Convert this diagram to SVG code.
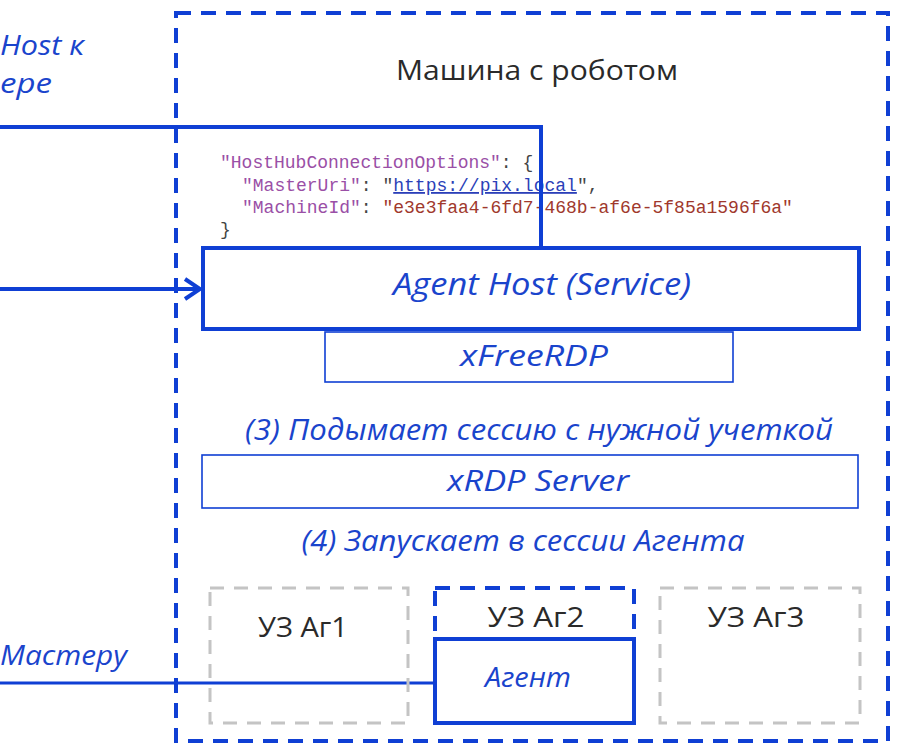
<svg xmlns="http://www.w3.org/2000/svg" width="901" height="755" viewBox="0 0 901 755">
<defs>
<style>
.blue{stroke:#0f3fd4;fill:none}
.thick{stroke-width:4}
.thin{stroke-width:1.6}
.dash{stroke-dasharray:15 10}
.grey{stroke:#c4c4c4;fill:none;stroke-width:3;stroke-dasharray:14 10}
.lbl{font-family:"Open Sans","Noto Sans","Liberation Sans",sans-serif;font-style:italic;fill:#1a44cc}
.dark{font-family:"Open Sans","Noto Sans","Liberation Sans",sans-serif;fill:#2a2a2a}
.code{font-family:"Liberation Mono","DejaVu Sans Mono",monospace;font-size:18px;fill:#444}
.key{fill:#9a4fa6}
.str{fill:#a0382c}
.url{fill:#2b3fb8;text-decoration:underline}
</style>
<marker id="chev" markerWidth="20" markerHeight="24" refX="18" refY="12" orient="auto" markerUnits="userSpaceOnUse">
<path d="M3,2 L18,12 L3,22" fill="none" stroke="#0f3fd4" stroke-width="4"/>
</marker>
</defs>
<rect width="901" height="755" fill="#fff"/>

<g id="machine">
<rect class="blue thick dash" x="176" y="13" width="712" height="728"/>
<text class="dark" x="537" y="80" font-size="27" text-anchor="middle" textLength="282" lengthAdjust="spacingAndGlyphs">Машина с роботом</text>
</g>

<g id="config">
<text class="code" x="220" y="168"><tspan class="key">"HostHubConnectionOptions"</tspan>: {</text>
<text class="code" x="242" y="191"><tspan class="key">"MasterUri"</tspan>: "<tspan class="url">https://pix.local</tspan>",</text>
<text class="code" x="242" y="213"><tspan class="key">"MachineId"</tspan>: <tspan class="str">"e3e3faa4-6fd7-468b-af6e-5f85a1596f6a"</tspan></text>
<text class="code" x="220" y="235">}</text>
</g>

<g id="connectors">
<polyline class="blue thick" points="0,127 541,127 541,248"/>
<line class="blue thick" x1="0" y1="289" x2="200" y2="289" marker-end="url(#chev)"/>
<line class="blue" stroke-width="3" x1="0" y1="683" x2="435" y2="683"/>
</g>

<g id="left-labels">
<text class="lbl" x="0" y="55" font-size="28" textLength="84" lengthAdjust="spacingAndGlyphs">Host к</text>
<text class="lbl" x="0" y="93" font-size="28" textLength="52" lengthAdjust="spacingAndGlyphs">ере</text>
<text class="lbl" x="0" y="665" font-size="28" textLength="127" lengthAdjust="spacingAndGlyphs">Мастеру</text>
</g>

<g id="agent-host">
<rect class="blue thick" x="203" y="248" width="656" height="81" fill="#fff"/>
<text class="lbl" x="542" y="295" font-size="31" text-anchor="middle" textLength="298" lengthAdjust="spacingAndGlyphs">Agent Host (Service)</text>
</g>

<g id="xfreerdp">
<rect class="blue thin" x="325" y="332" width="408" height="50"/>
<text class="lbl" x="534" y="366" font-size="29" text-anchor="middle" textLength="148" lengthAdjust="spacingAndGlyphs">xFreeRDP</text>
</g>

<g id="step3">
<text class="lbl" x="539" y="440" font-size="29" text-anchor="middle" textLength="588" lengthAdjust="spacingAndGlyphs">(3) Подымает сессию с нужной учеткой</text>
</g>

<g id="xrdp">
<rect class="blue thin" x="202" y="455" width="656" height="53"/>
<text class="lbl" x="538" y="491" font-size="29" text-anchor="middle" textLength="182" lengthAdjust="spacingAndGlyphs">xRDP Server</text>
</g>

<g id="step4">
<text class="lbl" x="523" y="551" font-size="29" text-anchor="middle" textLength="443" lengthAdjust="spacingAndGlyphs">(4) Запускает в сессии Агента</text>
</g>

<g id="uz1">
<rect class="grey" x="210" y="588" width="198" height="135"/>
<text class="dark" x="303" y="637" font-size="27" text-anchor="middle" textLength="90" lengthAdjust="spacingAndGlyphs">УЗ Аг1</text>
</g>

<g id="uz2">
<rect class="blue thick dash" x="435" y="588" width="199" height="135"/>
<text class="dark" x="536" y="627" font-size="27" text-anchor="middle" textLength="97" lengthAdjust="spacingAndGlyphs">УЗ Аг2</text>
</g>

<g id="agent">
<rect class="blue thick" x="435" y="639" width="199" height="84" fill="#fff"/>
<text class="lbl" x="528" y="687" font-size="28" text-anchor="middle" textLength="86" lengthAdjust="spacingAndGlyphs">Агент</text>
</g>

<g id="uz3">
<rect class="grey" x="660" y="588" width="200" height="135"/>
<text class="dark" x="756" y="627" font-size="27" text-anchor="middle" textLength="97" lengthAdjust="spacingAndGlyphs">УЗ Аг3</text>
</g>
</svg>
